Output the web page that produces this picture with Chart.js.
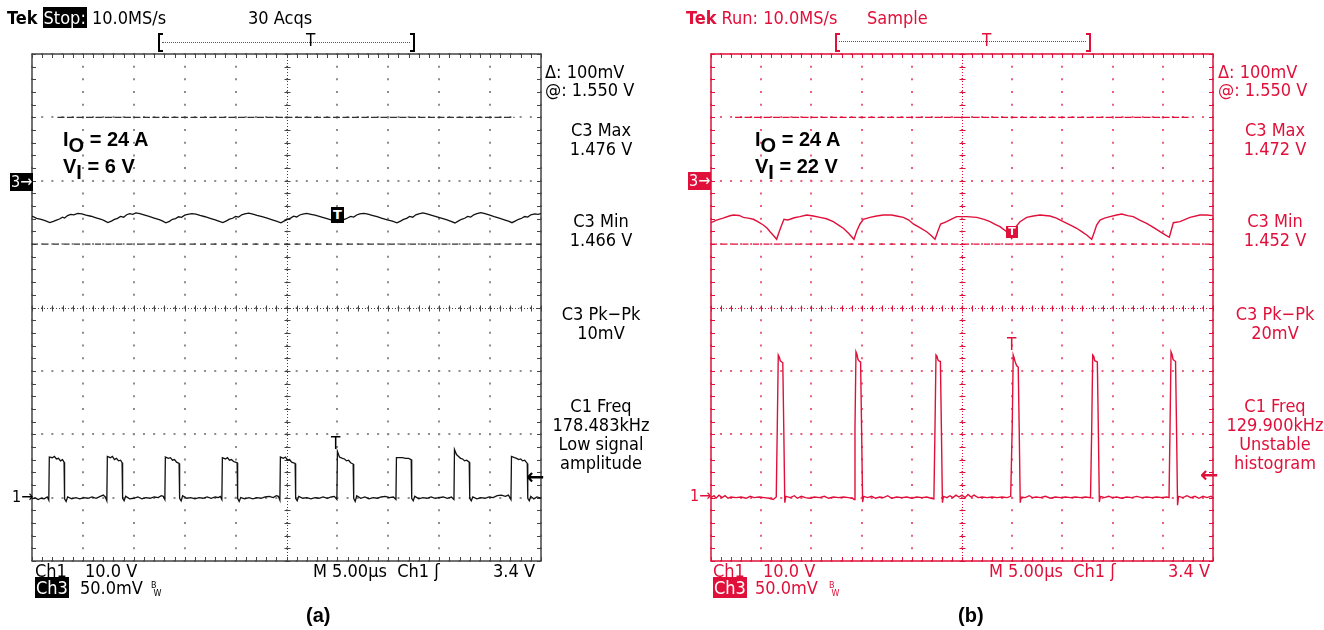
<!DOCTYPE html>
<html>
<head>
<meta charset="utf-8">
<script src="https://cdn.jsdelivr.net/npm/chart.js@4"></script>
<style>
  html, body { margin:0; padding:0; background:#fff; width:1324px; height:630px; overflow:hidden; }
  #wrap { position:relative; width:1324px; height:630px; }
  canvas { position:absolute; top:0; }
  .t { position:absolute; font-family:'DejaVu Sans Condensed','DejaVu Sans',sans-serif; font-size:18px; line-height:19px; white-space:pre; }
  .a { color:#000; }
  .b { color:#e0103a; }
  .c { text-align:center; width:140px; }
  .inv { color:#fff; padding:0 1px; }
  .a .inv, .a.inv { background:#000; }
  .b .inv, .b.inv { background:#e0103a; color:#fff; }
  .ann { position:absolute; font-family:'Liberation Sans',Arial,sans-serif; font-weight:bold; font-size:20px; line-height:26px; color:#000; white-space:pre; }
  .ann sub { font-size:20px; vertical-align:-6px; line-height:0; }
  .cap { position:absolute; font-family:'Liberation Sans',Arial,sans-serif; font-weight:bold; font-size:20px; color:#000; }
  .brk { position:absolute; height:15px; width:3px; border-top:2px solid; border-bottom:2px solid; }
  .dots { position:absolute; height:0; border-top:1px dotted; }
  .box { position:absolute; font-family:'DejaVu Sans',sans-serif; font-weight:bold; font-size:13px; line-height:16px; text-align:center; color:#fff; }
  .bw { position:absolute; font-family:'DejaVu Sans',sans-serif; font-size:8px; line-height:8px; }
  .arr { position:absolute; font-family:'DejaVu Sans',sans-serif; font-weight:bold; font-size:22px; line-height:22px; }
</style>
</head>
<body>
<div id="wrap">
<canvas id="scopeA" width="662" height="630" style="left:0"></canvas>
<canvas id="scopeB" width="662" height="630" style="left:662px"></canvas>

<!-- panel (a) texts -->
<div class="t a" style="left:7px;top:8px"><b>Tek</b> <span class="inv">Stop:</span> 10.0MS/s</div>
<div class="t a" style="left:248px;top:8px">30 Acqs</div>
<div class="brk" style="left:158px;top:33px;border-left:2px solid #000;border-color:#000"></div>
<div class="brk" style="left:410px;top:33px;border-right:2px solid #000;border-color:#000"></div>
<div class="dots" style="left:162px;width:248px;top:42px;border-color:#555"></div>
<div class="t a" style="left:306px;top:31px;font-size:17px">T</div>

<div class="t a" style="left:545px;top:62px">Δ: 100mV</div>
<div class="t a" style="left:545px;top:80px">@: 1.550 V</div>
<div class="t a c" style="left:531px;top:120px">C3 Max<br>1.476 V</div>
<div class="t a c" style="left:531px;top:211px">C3 Min<br>1.466 V</div>
<div class="t a c" style="left:531px;top:304px">C3 Pk−Pk<br>10mV</div>
<div class="t a c" style="left:531px;top:396px">C1 Freq<br>178.483kHz<br>Low signal<br>amplitude</div>

<div class="t a inv" style="left:10px;top:173px;font-size:16px;line-height:18px">3→</div>
<div class="t a" style="left:12px;top:487px;font-size:16px">1→</div>
<div class="arr a" style="left:526px;top:466px">←</div>
<div class="box" style="left:331px;top:207px;width:13px;height:16px;background:#000">T</div>
<div class="t a" style="left:331px;top:434px;font-size:17px">T</div>

<div class="ann" style="left:63px;top:126px">I<sub>O</sub> = 24 A</div>
<div class="ann" style="left:63px;top:153px">V<sub>I</sub> = 6 V</div>

<div class="t a" style="left:35px;top:561px">Ch1</div>
<div class="t a" style="left:85px;top:561px">10.0 V</div>
<div class="t a" style="left:313px;top:561px">M 5.00µs  Ch1 ʃ</div>
<div class="t a" style="left:493px;top:561px">3.4 V</div>
<div class="t a" style="left:35px;top:578px"><span class="inv">Ch3</span></div>
<div class="t a" style="left:80px;top:578px">50.0mV</div>
<div class="bw a" style="left:151px;top:582px">B<br>&nbsp;W</div>
<div class="cap" style="left:306px;top:604px">(a)</div>

<!-- panel (b) texts -->
<div class="t b" style="left:686px;top:8px"><b>Tek</b> Run: 10.0MS/s</div>
<div class="t b" style="left:867px;top:8px">Sample</div>
<div class="brk" style="left:835px;top:33px;border-left:2px solid #e0103a;border-color:#e0103a"></div>
<div class="brk" style="left:1086px;top:33px;border-right:2px solid #e0103a;border-color:#e0103a"></div>
<div class="dots" style="left:839px;width:247px;top:41px;border-color:#e0103a"></div>
<div class="t b" style="left:982px;top:31px;font-size:17px">T</div>

<div class="t b" style="left:1218px;top:62px">Δ: 100mV</div>
<div class="t b" style="left:1218px;top:80px">@: 1.550 V</div>
<div class="t b c" style="left:1205px;top:120px">C3 Max<br>1.472 V</div>
<div class="t b c" style="left:1205px;top:211px">C3 Min<br>1.452 V</div>
<div class="t b c" style="left:1205px;top:304px">C3 Pk−Pk<br>20mV</div>
<div class="t b c" style="left:1205px;top:396px">C1 Freq<br>129.900kHz<br>Unstable<br>histogram</div>

<div class="t b inv" style="left:688px;top:172px;font-size:16px;line-height:18px">3→</div>
<div class="t b" style="left:690px;top:486px;font-size:16px">1→</div>
<div class="arr b" style="left:1200px;top:464px">←</div>
<div class="box" style="left:1006px;top:226px;width:12px;height:12px;line-height:12px;font-size:11px;background:#e0103a">T</div>
<div class="t b" style="left:1007px;top:335px;font-size:17px">T</div>

<div class="ann" style="left:755px;top:126px">I<sub>O</sub> = 24 A</div>
<div class="ann" style="left:755px;top:153px">V<sub>I</sub> = 22 V</div>

<div class="t b" style="left:713px;top:561px">Ch1</div>
<div class="t b" style="left:763px;top:561px">10.0 V</div>
<div class="t b" style="left:989px;top:561px">M 5.00µs  Ch1 ʃ</div>
<div class="t b" style="left:1168px;top:561px">3.4 V</div>
<div class="t b" style="left:713px;top:578px"><span class="inv">Ch3</span></div>
<div class="t b" style="left:755px;top:578px">50.0mV</div>
<div class="bw b" style="left:829px;top:582px">B<br>&nbsp;W</div>
<div class="cap" style="left:958px;top:604px">(b)</div>
</div>

<script>
// ---------------- data ----------------
// time axis: 0..50 µs (5 µs/div, 10 div)
const timeRange = [0, 50];
const timeStep = 5;
// Ch1 axis in volts (10 V/div, ground 3 div below centre)
const ch1Range = [-10, 70];
const ch1Step = 10;
// Ch3 axis in volts (50 mV/div)
const ch3Range = [1.2, 1.6];
// cursors (Ch3 volts): upper = @ 1.550 V, lower = 1.450 V (Δ 100 mV)
const cursorLevels = [1.55, 1.45];
const cursorSpanA = [2.5, 47.4];
const cursorSpanB = [2.4, 47.7];

// Panel (a): Vi = 6 V, Ch1 switch node [µs, V]
const ch1A = [
[0,-0.2],[0.3,0.0],[0.6,-0.3],[0.9,-0.1],[1.2,-0.2],[1.5,0.1],[1.65,-0.4],
[1.7,6.4],[2.0,6.3],[2.2,6.5],[2.4,6.1],[2.6,6.2],[2.8,5.8],[3.0,6.0],[3.15,5.6],
[3.2,-0.2],[3.35,-0.6],[3.5,0.1],[3.9,-0.2],[4.3,0.0],[4.7,-0.2],[5.1,0.0],[5.5,-0.1],[5.9,0.1],[6.3,-0.1],[6.7,0.2],[7.0,0.4],[7.2,0.1],[7.35,-0.5],
[7.4,6.5],[7.7,6.3],[7.9,6.5],[8.1,6.0],[8.3,6.2],[8.5,5.8],[8.7,5.9],[8.85,5.5],
[8.9,-0.1],[9.05,-0.5],[9.2,0.2],[9.6,-0.2],[10.0,-0.1],[10.4,0.1],[10.8,-0.2],[11.2,0.0],[11.6,-0.1],[12.0,0.1],[12.4,0.0],[12.7,0.3],[12.9,0.2],[13.05,-0.3],
[13.1,6.4],[13.4,6.2],[13.6,6.3],[13.8,5.9],[14.0,6.0],[14.2,5.6],[14.45,5.4],
[14.5,-0.1],[14.65,-0.5],[14.8,0.3],[15.2,-0.1],[15.6,0.0],[16.0,-0.2],[16.4,0.0],[16.8,-0.1],[17.2,0.1],[17.6,-0.1],[18.0,0.1],[18.3,0.0],[18.5,0.2],[18.65,-0.3],
[18.7,6.3],[19.0,6.1],[19.2,6.3],[19.4,5.9],[19.6,6.0],[19.8,5.7],[20.15,5.5],
[20.2,-0.1],[20.35,-0.6],[20.5,0.0],[20.9,-0.2],[21.3,0.0],[21.7,-0.2],[22.1,0.0],[22.5,-0.1],[22.9,0.1],[23.3,0.2],[23.7,0.0],[24.0,0.3],[24.2,0.2],[24.35,-0.4],
[24.4,6.4],[24.7,6.2],[24.9,6.4],[25.1,5.9],[25.3,6.0],[25.5,5.6],[25.85,5.4],
[25.9,-0.1],[26.05,-0.5],[26.2,0.2],[26.6,-0.1],[27.0,0.0],[27.4,-0.2],[27.8,0.0],[28.2,-0.1],[28.6,0.1],[29.0,-0.1],[29.4,0.1],[29.7,0.2],[29.95,-0.3],
[30.0,7.3],[30.2,6.4],[30.5,6.2],[30.7,6.1],[30.9,5.8],[31.1,5.9],[31.3,5.5],[31.55,5.3],
[31.6,-0.1],[31.75,-0.6],[31.9,0.3],[32.3,-0.1],[32.7,0.1],[33.1,-0.2],[33.5,0.0],[33.9,-0.1],[34.3,0.1],[34.7,0.2],[35.1,0.0],[35.5,0.1],[35.75,-0.3],
[35.8,6.3],[36.1,6.3],[36.4,6.3],[36.7,6.2],[37.0,6.2],[37.25,6.0],
[37.3,-0.1],[37.45,-0.5],[37.6,0.2],[38.0,-0.2],[38.4,0.0],[38.8,-0.1],[39.2,0.1],[39.6,-0.1],[40.0,0.0],[40.4,0.1],[40.8,-0.1],[41.2,0.1],[41.45,-0.3],
[41.5,7.6],[41.7,6.8],[41.9,6.5],[42.1,6.2],[42.3,6.1],[42.5,5.8],[42.7,5.9],[42.95,5.6],
[43.0,-0.1],[43.15,-0.5],[43.3,0.1],[43.7,-0.2],[44.1,0.0],[44.5,-0.1],[44.9,0.1],[45.3,0.0],[45.7,0.3],[46.1,0.4],[46.5,0.2],[46.8,0.4],[47.05,-0.3],
[47.1,6.5],[47.4,6.3],[47.6,6.2],[47.8,6.0],[48.0,6.1],[48.2,5.8],[48.4,5.9],[48.65,5.4],
[48.7,-0.1],[48.85,-0.5],[49.0,0.2],[49.3,-0.2],[49.6,0.1],[50,-0.1]
];

// Panel (a): Ch3 output ripple [µs, V]
const ch3A = [
[0,1.4722],[0.46,1.4704],[0.9,1.4696],[1.28,1.4685],[1.75,1.4670],
[2.1,1.4680],[2.4,1.4690],[2.7,1.4698],[3.0,1.4712],[3.2,1.4706],[3.5,1.4725],[3.8,1.4735],[4.1,1.4731],[4.5,1.4743],[4.9,1.4738],[5.3,1.4728],[5.8,1.4720],[6.3,1.4708],[6.8,1.4696],[7.1,1.4685],[7.45,1.4670],
[7.8,1.4682],[8.1,1.4695],[8.4,1.4703],[8.7,1.4718],[9.0,1.4712],[9.3,1.4732],[9.6,1.4740],[9.9,1.4735],[10.2,1.4747],[10.6,1.4740],[11.0,1.4730],[11.5,1.4718],[12.0,1.4706],[12.5,1.4694],[12.8,1.4683],[13.15,1.4668],
[13.5,1.4680],[13.8,1.4696],[14.1,1.4702],[14.4,1.4716],[14.7,1.4711],[15.0,1.4728],[15.3,1.4734],[15.7,1.4741],[16.1,1.4736],[16.5,1.4726],[17.0,1.4716],[17.5,1.4704],[18.0,1.4692],[18.4,1.4680],[18.75,1.4670],
[19.1,1.4684],[19.4,1.4697],[19.7,1.4704],[20.0,1.4719],[20.3,1.4713],[20.6,1.4731],[20.9,1.4738],[21.3,1.4744],[21.7,1.4737],[22.1,1.4727],[22.6,1.4716],[23.1,1.4705],[23.6,1.4692],[24.0,1.4681],[24.45,1.4668],
[24.8,1.4683],[25.1,1.4695],[25.4,1.4705],[25.7,1.4720],[26.0,1.4714],[26.3,1.4730],[26.6,1.4737],[27.0,1.4742],[27.4,1.4735],[27.8,1.4728],[28.3,1.4717],[28.8,1.4706],[29.3,1.4694],[29.7,1.4682],[30.05,1.4670],
[30.4,1.4684],[30.7,1.4696],[31.0,1.4706],[31.3,1.4719],[31.6,1.4713],[31.9,1.4730],[32.2,1.4738],[32.6,1.4743],[33.0,1.4736],[33.4,1.4727],[33.9,1.4716],[34.4,1.4704],[34.9,1.4692],[35.4,1.4681],[35.85,1.4668],
[36.2,1.4682],[36.5,1.4695],[36.8,1.4703],[37.1,1.4718],[37.4,1.4712],[37.7,1.4731],[38.0,1.4739],[38.4,1.4746],[38.8,1.4739],[39.2,1.4729],[39.7,1.4717],[40.2,1.4705],[40.7,1.4693],[41.1,1.4682],[41.55,1.4667],
[41.9,1.4683],[42.2,1.4696],[42.5,1.4704],[42.8,1.4719],[43.1,1.4713],[43.4,1.4731],[43.7,1.4740],[44.1,1.4748],[44.5,1.4740],[44.9,1.4730],[45.4,1.4717],[45.9,1.4705],[46.4,1.4692],[46.8,1.4681],[47.15,1.4669],
[47.5,1.4683],[47.8,1.4696],[48.1,1.4704],[48.4,1.4718],[48.7,1.4713],[49.0,1.4731],[49.4,1.4738],[49.7,1.4735],[50,1.4740]
];

// Panel (b): Vi = 22 V, Ch1 switch node [µs, V]
const ch1B = [
[0,0.0],[0.3,0.3],[0.5,-0.1],[0.8,0.4],[1.1,0.0],[1.4,0.3],[1.7,-0.1],[2.0,0.1],[2.5,0.0],[3.0,0.1],[3.5,-0.1],[3.9,0.2],[4.3,0.0],[4.8,0.1],[5.3,0.0],[5.8,-0.1],[6.2,-0.3],[6.5,0.1],
[6.6,10.9],[6.7,22.5],[6.8,22.2],[6.9,21.6],[7.05,21.4],[7.15,21.3],[7.25,10.7],[7.35,-0.8],[7.45,0.2],
[7.9,0.0],[8.3,0.3],[8.6,-0.1],[9.0,0.2],[9.4,0.0],[9.8,-0.1],[10.3,0.1],[10.8,0.0],[11.3,0.2],[11.7,-0.1],[12.2,0.1],[12.7,0.0],[13.2,0.1],[13.7,0.0],[14.1,-0.1],[14.25,-0.3],
[14.34,10.9],[14.44,23.0],[14.54,22.6],[14.64,21.8],[14.79,21.5],[14.9,21.4],[15.0,10.8],[15.1,-0.7],[15.2,0.2],
[15.6,0.0],[16.0,0.2],[16.4,-0.1],[16.8,0.1],[17.2,0.0],[17.6,0.3],[18.0,-0.1],[18.5,0.1],[19.0,0.0],[19.5,0.1],[20.0,-0.1],[20.5,0.1],[21.0,0.0],[21.5,0.1],[21.9,-0.1],[22.2,-0.2],
[22.31,10.9],[22.41,22.5],[22.51,22.3],[22.61,21.7],[22.75,21.5],[22.85,21.5],[22.95,10.6],[23.05,-0.8],[23.15,0.2],
[23.5,0.0],[23.8,0.3],[24.1,0.0],[24.4,0.4],[24.7,0.1],[25.0,0.4],[25.3,0.0],[25.6,0.5],[25.9,0.1],[26.2,0.4],[26.6,0.0],[27.0,0.1],[27.5,0.0],[28.0,0.1],[28.5,0.0],[29.0,0.1],[29.5,0.0],[29.85,0.2],
[30.0,11.0],[30.1,22.5],[30.2,22.0],[30.3,21.4],[30.45,20.8],[30.6,20.6],[30.7,10.5],[30.8,-0.8],[30.9,0.1],
[31.3,0.0],[31.7,0.3],[32.0,0.0],[32.4,0.1],[32.8,0.0],[33.3,0.2],[33.8,-0.1],[34.3,0.1],[34.8,0.0],[35.3,0.1],[35.8,0.0],[36.3,0.1],[36.8,0.0],[37.3,0.1],[37.8,0.0],
[37.92,10.9],[38.02,22.5],[38.12,22.3],[38.22,21.6],[38.37,21.5],[38.48,21.4],[38.58,10.7],[38.68,-0.7],[38.78,0.2],
[39.2,0.0],[39.6,0.2],[40.0,0.0],[40.4,0.1],[40.9,-0.1],[41.4,0.1],[41.9,0.0],[42.4,0.2],[42.9,0.0],[43.4,0.1],[43.9,0.0],[44.4,0.1],[44.9,0.0],[45.4,0.1],[45.62,0.0],
[45.72,10.9],[45.82,23.0],[45.92,22.6],[46.02,21.8],[46.17,21.6],[46.27,21.5],[46.37,10.8],[46.47,-1.2],[46.57,0.2],
[47.0,0.0],[47.4,0.3],[47.8,0.0],[48.2,0.2],[48.6,-0.1],[49.0,0.2],[49.4,0.0],[49.8,0.2],[50,0.0]
];

// Panel (b): Ch3 output ripple [µs, V]
const ch3B = [
[0,1.4669],[0.56,1.4690],[1.2,1.4705],[1.89,1.4724],[2.22,1.4730],[2.8,1.4726],[3.22,1.4711],[3.7,1.4705],[4.22,1.4696],[4.7,1.4675],[5.21,1.4651],[5.6,1.4625],[5.88,1.4598],[6.2,1.4570],[6.54,1.4538],
[6.8,1.4600],[7.04,1.4651],[7.27,1.4696],[7.6,1.4690],[7.87,1.4696],[8.3,1.4708],[8.86,1.4717],[9.53,1.4730],[10.2,1.4722],[10.86,1.4711],[11.5,1.4700],[12.18,1.4677],[12.7,1.4650],[13.18,1.4625],[13.7,1.4585],[14.24,1.4538],
[14.5,1.4600],[14.84,1.4659],[15.17,1.4696],[15.84,1.4711],[16.5,1.4722],[17.16,1.4730],[17.99,1.4730],[18.6,1.4720],[19.16,1.4711],[19.7,1.4690],[20.15,1.4659],[20.8,1.4630],[21.48,1.4598],[21.9,1.4570],[22.31,1.4538],
[22.64,1.4612],[22.87,1.4659],[23.47,1.4677],[24.0,1.4700],[24.47,1.4717],[25.47,1.4717],[26.46,1.4711],[27.2,1.4695],[27.79,1.4677],[28.3,1.4655],[28.78,1.4638],[29.45,1.4598],[29.95,1.4545],
[30.3,1.4630],[30.78,1.4677],[31.44,1.4711],[32.1,1.4722],[32.77,1.4730],[33.76,1.4722],[34.4,1.4705],[35.09,1.4677],[35.8,1.4650],[36.42,1.4625],[37.0,1.4595],[37.42,1.4572],[37.92,1.4538],
[38.2,1.4600],[38.41,1.4651],[38.75,1.4690],[39.2,1.4705],[39.74,1.4717],[40.3,1.4728],[40.9,1.4738],[41.5,1.4725],[42.06,1.4717],[42.7,1.4690],[43.39,1.4664],[44.1,1.4630],[44.72,1.4598],[45.2,1.4575],[45.65,1.4554],
[46.05,1.4669],[46.71,1.4677],[47.71,1.4711],[48.71,1.4730],[49.37,1.4730],[50,1.4725]
];

// ---------------- drawing ----------------
function pts(arr) { return arr.map(p => ({x: p[0], y: p[1]})); }

const graticule = {
  id: 'graticule',
  beforeDatasetsDraw(chart, args, opts) {
    const {ctx, chartArea: ca, scales: {x, y}} = chart;
    ctx.save();
    ctx.strokeStyle = opts.color;
    ctx.lineWidth = 1.5;
    ctx.strokeRect(ca.left, ca.top, ca.right - ca.left, ca.bottom - ca.top);
    ctx.lineWidth = 1;
    ctx.beginPath();
    for (let v = timeRange[0]; v <= timeRange[1] + 1e-9; v += timeStep / 5) {
      const px = Math.round(x.getPixelForValue(v)) + 0.5;
      ctx.moveTo(px, ca.top); ctx.lineTo(px, ca.top + 4);
      ctx.moveTo(px, ca.bottom); ctx.lineTo(px, ca.bottom - 4);
    }
    for (let v = ch1Range[0]; v <= ch1Range[1] + 1e-9; v += ch1Step / 5) {
      const py = Math.round(y.getPixelForValue(v)) + 0.5;
      ctx.moveTo(ca.left, py); ctx.lineTo(ca.left + 4, py);
      ctx.moveTo(ca.right, py); ctx.lineTo(ca.right - 4, py);
    }
    const cx = Math.round(x.getPixelForValue((timeRange[0] + timeRange[1]) / 2)) + 0.5;
    const cy = Math.round(y.getPixelForValue((ch1Range[0] + ch1Range[1]) / 2)) + 0.5;
    for (let v = timeRange[0]; v <= timeRange[1] + 1e-9; v += timeStep / 5) {
      const px = Math.round(x.getPixelForValue(v)) + 0.5;
      ctx.moveTo(px, cy - 3); ctx.lineTo(px, cy + 3);
    }
    for (let v = ch1Range[0]; v <= ch1Range[1] + 1e-9; v += ch1Step / 5) {
      const py = Math.round(y.getPixelForValue(v)) + 0.5;
      ctx.moveTo(cx - 3, py); ctx.lineTo(cx + 3, py);
    }
    ctx.stroke();
    ctx.setLineDash([1, 2]);
    ctx.beginPath();
    ctx.moveTo(cx, ca.top); ctx.lineTo(cx, ca.bottom);
    ctx.moveTo(ca.left, cy); ctx.lineTo(ca.right, cy);
    ctx.stroke();
    ctx.restore();
  }
};

function makeScope(id, c1, c3, span, col) {
  const canvas = document.getElementById(id);
  return new Chart(canvas, {
    type: 'line',
    data: {
      datasets: [
        { label: 'Ch1', data: pts(c1), yAxisID: 'y', borderColor: col.trace, borderWidth: col.w, pointRadius: 0, tension: 0 },
        { label: 'Ch3', data: pts(c3), yAxisID: 'y3', borderColor: col.trace, borderWidth: col.w, pointRadius: 0, tension: 0 },
        { label: 'Cursor 1', data: [{x: span[0], y: cursorLevels[0]}, {x: span[1], y: cursorLevels[0]}], yAxisID: 'y3', borderColor: col.cursor, borderWidth: 1.3, borderDash: [7, 2.5], pointRadius: 0 },
        { label: 'Cursor 2', data: [{x: timeRange[0], y: cursorLevels[1]}, {x: timeRange[1], y: cursorLevels[1]}], yAxisID: 'y3', borderColor: col.cursor, borderWidth: 1.3, borderDash: [6, 4.5], pointRadius: 0 }
      ]
    },
    options: {
      responsive: false,
      animation: false,
      devicePixelRatio: 1,
      layout: { padding: col.pad },
      plugins: { legend: { display: false }, tooltip: { enabled: false }, title: { display: false }, graticule: { color: col.border } },
      scales: {
        x: {
          type: 'linear', min: timeRange[0], max: timeRange[1],
          ticks: { display: false, stepSize: timeStep },
          grid: { color: col.grid, lineWidth: 2, drawTicks: false },
          border: { display: false, dash: [2, col.vdot - 2], dashOffset: 1 }
        },
        y: {
          type: 'linear', min: ch1Range[0], max: ch1Range[1],
          ticks: { display: false, stepSize: ch1Step },
          grid: { color: col.grid, lineWidth: 2, drawTicks: false },
          border: { display: false, dash: [2, col.hdot - 2], dashOffset: 1 }
        },
        y3: { type: 'linear', min: ch3Range[0], max: ch3Range[1], display: false }
      }
    },
    plugins: [graticule]
  });
}

makeScope('scopeA', ch1A, ch3A, cursorSpanA, {
  trace: '#111', cursor: '#333', grid: '#8c8c8c', border: '#444', w: 1.3,
  pad: { left: 32, top: 54, right: 121, bottom: 69 }, vdot: 507 / 40, hdot: 509 / 50
});
makeScope('scopeB', ch1B, ch3B, cursorSpanB, {
  trace: '#e0103a', cursor: '#e0103a', grid: '#e8607a', border: '#e0103a', w: 1.4,
  pad: { left: 49, top: 54, right: 111, bottom: 69 }, vdot: 507 / 40, hdot: 502 / 50
});
</script>
</body>
</html>
